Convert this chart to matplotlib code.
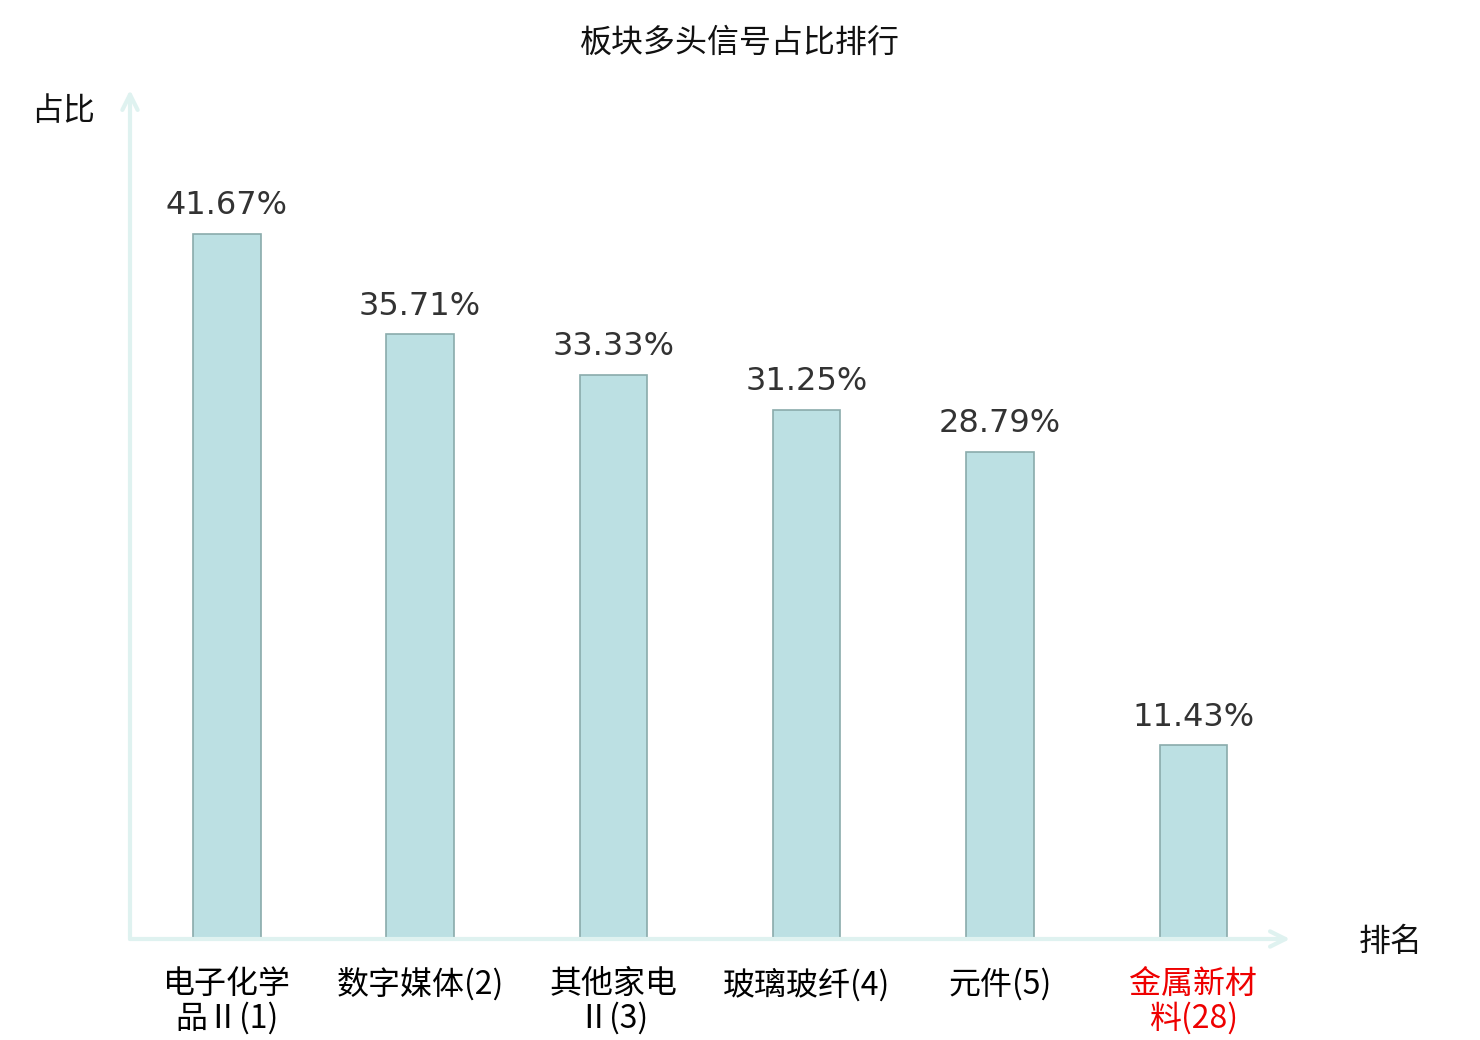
import matplotlib
matplotlib.use("Agg")
import matplotlib.pyplot as plt

categories = ["电子化学\n品Ⅱ(1)", "数字媒体(2)", "其他家电\nⅡ(3)", "玻璃玻纤(4)", "元件(5)", "金属新材\n料(28)"]
values = [41.67, 35.71, 33.33, 31.25, 28.79, 11.43]
label_colors = ["#000000", "#000000", "#000000", "#000000", "#000000", "#ee0000"]
title = "板块多头信号占比排行"
y_name = "占比"
x_name = "排名"

cjk = ["Noto Sans CJK SC", "DejaVu Sans"]
num = ["DejaVu Sans", "Noto Sans CJK SC"]
plt.rcParams['font.family'] = cjk

fig = plt.figure(figsize=(14.8, 10.4), dpi=100)
ax = fig.add_axes([130/1480, 1 - 939/1040, 1160/1480, 849/1040])
n = len(categories)
x = list(range(n))
ax.bar(x, values, width=0.35, color="#bce0e3", edgecolor="#8aabab", linewidth=1.2, zorder=3)
ax.set_xlim(-0.5, n - 0.5)
ax.set_ylim(0, 50.15)
for s in ax.spines.values():
    s.set_visible(False)
ax.set_yticks([])
ax.set_xticks(x)
ax.set_xticklabels(categories, fontsize=23, linespacing=1.05)
for t, c in zip(ax.get_xticklabels(), label_colors):
    t.set_color(c)
ax.tick_params(axis='x', length=0, pad=21)

for xi, v in zip(x, values):
    ax.annotate(f"{v:.2f}%", (xi, v), xytext=(0, 9), textcoords="offset points",
                ha="center", va="bottom", fontsize=23, color="#333333", family=num)

axis_col = "#dff2f0"
ax.annotate("", xy=(1.0, 0), xytext=(0, 0), xycoords="axes fraction",
            arrowprops=dict(arrowstyle="->,head_length=1.1,head_width=0.55", color=axis_col, lw=3,
                            shrinkA=0, shrinkB=0), annotation_clip=False)
ax.annotate("", xy=(0, 1.0), xytext=(0, 0), xycoords="axes fraction",
            arrowprops=dict(arrowstyle="->,head_length=1.1,head_width=0.55", color=axis_col, lw=3,
                            shrinkA=0, shrinkB=0), annotation_clip=False)

fig.text(740/1480, 1 - 43/1040, title, ha="center", va="center", fontsize=23, color="#111111")
fig.text(63/1480, 1 - 111/1040, y_name, ha="center", va="center", fontsize=23, color="#111111")
fig.text(1391/1480, 1 - 942/1040, x_name, ha="center", va="center", fontsize=23, color="#111111")

fig.savefig("out.png", dpi=100, facecolor="white")
